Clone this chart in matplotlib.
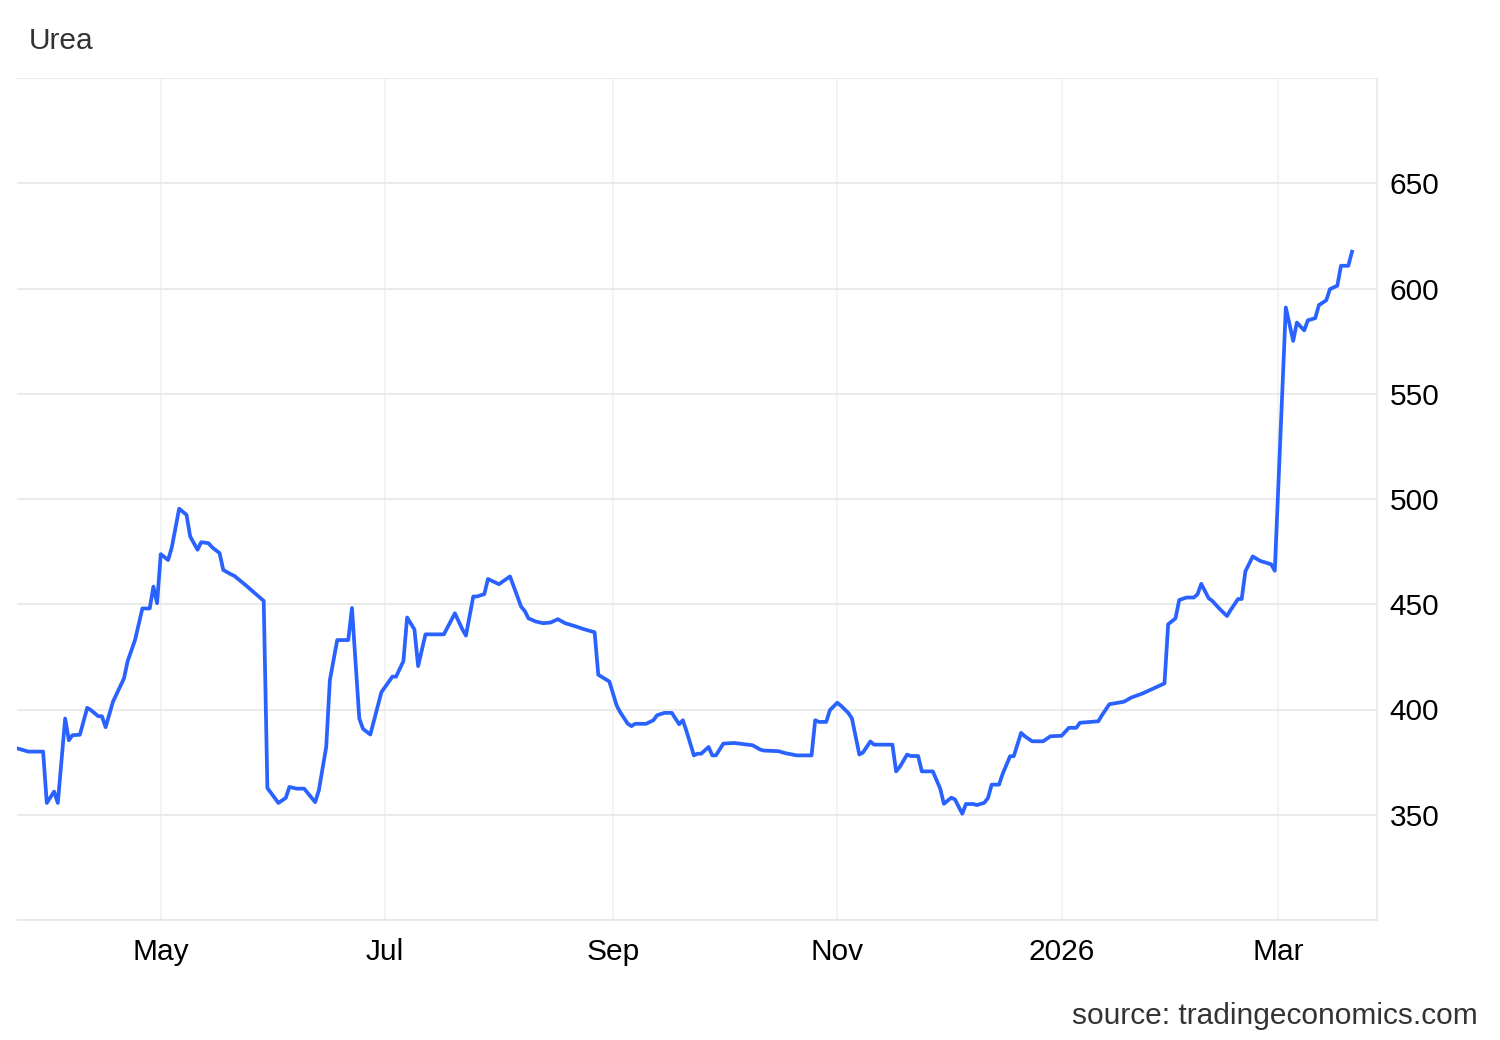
import numpy as np
import pandas as pd
import matplotlib
matplotlib.use("Agg")
import matplotlib.pyplot as plt
import matplotlib.dates as mdates

plt.rcParams['font.family'] = ['Liberation Sans', 'DejaVu Sans']

# urea price readings (date, USD/T)
dates = [
    "2025-03-22", "2025-03-26", "2025-03-30", "2025-03-31", "2025-04-02", "2025-04-03",
    "2025-04-05", "2025-04-06", "2025-04-07", "2025-04-09", "2025-04-11", "2025-04-12",
    "2025-04-14", "2025-04-15", "2025-04-16", "2025-04-18", "2025-04-21", "2025-04-22",
    "2025-04-24", "2025-04-26", "2025-04-28", "2025-04-29", "2025-04-30", "2025-05-01",
    "2025-05-03", "2025-05-04", "2025-05-06", "2025-05-08", "2025-05-09", "2025-05-11",
    "2025-05-12", "2025-05-14", "2025-05-15", "2025-05-17", "2025-05-18", "2025-05-20",
    "2025-05-21", "2025-05-24", "2025-05-29", "2025-05-30", "2025-06-01", "2025-06-02",
    "2025-06-04", "2025-06-05", "2025-06-07", "2025-06-09", "2025-06-12", "2025-06-13",
    "2025-06-15", "2025-06-16", "2025-06-18", "2025-06-21", "2025-06-22", "2025-06-24",
    "2025-06-25", "2025-06-27", "2025-06-30", "2025-07-03", "2025-07-04", "2025-07-06",
    "2025-07-07", "2025-07-09", "2025-07-10", "2025-07-12", "2025-07-17", "2025-07-20",
    "2025-07-22", "2025-07-23", "2025-07-25", "2025-07-26", "2025-07-28", "2025-07-29",
    "2025-08-01", "2025-08-02", "2025-08-04", "2025-08-05", "2025-08-07", "2025-08-08",
    "2025-08-09", "2025-08-11", "2025-08-13", "2025-08-15", "2025-08-17", "2025-08-19",
    "2025-08-22", "2025-08-24", "2025-08-27", "2025-08-28", "2025-08-30", "2025-08-31",
    "2025-09-02", "2025-09-03", "2025-09-05", "2025-09-06", "2025-09-07", "2025-09-10",
    "2025-09-12", "2025-09-13", "2025-09-15", "2025-09-17", "2025-09-19", "2025-09-20",
    "2025-09-21", "2025-09-23", "2025-09-24", "2025-09-25", "2025-09-27", "2025-09-28",
    "2025-09-29", "2025-10-01", "2025-10-04", "2025-10-09", "2025-10-11", "2025-10-12",
    "2025-10-16", "2025-10-18", "2025-10-21", "2025-10-25", "2025-10-26", "2025-10-27",
    "2025-10-29", "2025-10-30", "2025-11-01", "2025-11-02", "2025-11-04", "2025-11-05",
    "2025-11-07", "2025-11-08", "2025-11-10", "2025-11-11", "2025-11-16", "2025-11-17",
    "2025-11-18", "2025-11-20", "2025-11-21", "2025-11-23", "2025-11-24", "2025-11-27",
    "2025-11-29", "2025-11-30", "2025-12-02", "2025-12-03", "2025-12-05", "2025-12-06",
    "2025-12-08", "2025-12-09", "2025-12-11", "2025-12-12", "2025-12-13", "2025-12-15",
    "2025-12-16", "2025-12-18", "2025-12-19", "2025-12-21", "2025-12-22", "2025-12-24",
    "2025-12-27", "2025-12-29", "2026-01-01", "2026-01-03", "2026-01-05", "2026-01-06",
    "2026-01-11", "2026-01-12", "2026-01-14", "2026-01-18", "2026-01-20", "2026-01-23",
    "2026-01-26", "2026-01-29", "2026-01-30", "2026-02-01", "2026-02-02", "2026-02-04",
    "2026-02-06", "2026-02-07", "2026-02-08", "2026-02-10", "2026-02-11", "2026-02-13",
    "2026-02-15", "2026-02-16", "2026-02-18", "2026-02-19", "2026-02-20", "2026-02-22",
    "2026-02-24", "2026-02-27", "2026-02-28", "2026-03-03", "2026-03-05", "2026-03-06",
    "2026-03-08", "2026-03-09", "2026-03-11", "2026-03-12", "2026-03-14", "2026-03-15",
    "2026-03-17", "2026-03-18", "2026-03-20", "2026-03-21",
]
prices = [
    382, 380, 380, 355.6, 361, 355.6,
    395.7, 385.4, 387.8, 388, 400.8, 399.7,
    396.8, 396.8, 391.6, 403.7, 414.8, 423,
    433, 448, 448, 458.4, 450.5, 473.8,
    471, 477, 495.4, 492.5, 482.2, 475.9,
    479.5, 479, 477, 474.3, 466.3, 464.3,
    463.5, 459.2, 451.6, 362.7, 358, 355.6,
    358, 363.2, 362.4, 362.4, 356, 361.6,
    382.2, 414, 433, 433, 448.2, 395.7,
    390.8, 388.1, 408.2, 415.6, 415.6, 423,
    443.7, 438, 420.6, 435.7, 435.7, 445.7,
    438.2, 435.1, 453.7, 453.7, 454.8, 462,
    459.5, 460.8, 463.2, 458.4, 448.9, 446.8,
    443.3, 441.8, 441, 441.3, 442.9, 441,
    439.4, 438.2, 436.7, 416.5, 414.4, 413.3,
    401.9, 398.6, 393.3, 392.1, 393.2, 393.2,
    394.9, 397.3, 398.4, 398.4, 393, 394.9,
    389.7, 378.2, 379, 379, 382.2, 378.2,
    378.2, 383.8, 384.1, 383, 381, 380.5,
    380.2, 379.2, 378.2, 378.2, 394.9, 394.1,
    394.1, 399.7, 403.2, 401.8, 398.4, 395.7,
    378.6, 379.6, 384.8, 383.3, 383.3, 370.6,
    372.7, 378.6, 377.9, 377.9, 370.6, 370.6,
    362.4, 355.2, 358.1, 357.3, 350.5, 355.1,
    355.1, 354.6, 355.7, 358, 364.3, 364.3,
    369.5, 377.8, 377.8, 388.9, 387.3, 384.9,
    384.9, 387.3, 387.5, 391.3, 391.3, 393.7,
    394.4, 397.3, 402.5, 403.7, 405.7, 407.6,
    410, 412.4, 440.5, 443.3, 452, 453.2,
    453.2, 454.8, 459.7, 452.9, 451.6, 447.8,
    444.4, 447.3, 452.5, 452.5, 465.6, 472.7,
    470.6, 469, 465.9, 591, 575.1, 583.8,
    580.1, 584.9, 585.9, 592.1, 594.4, 599.7,
    601.3, 610.8, 610.8, 617.5,
]

tick_dates = ["2025-05-01", "2025-07-01", "2025-09-01", "2025-11-01", "2026-01-01", "2026-03-01"]
tick_labels = ["May", "Jul", "Sep", "Nov", "2026", "Mar"]
y_ticks = [300, 350, 400, 450, 500, 550, 600, 650, 700]

df = pd.DataFrame({"date": pd.to_datetime(dates), "price": prices})

fig = plt.figure(figsize=(15, 10.4), dpi=100)
ax = fig.add_axes([17 / 1500, 1 - 920 / 1040, 1360 / 1500, 842 / 1040])

ax.plot(df["date"], df["price"], color="#2962ff", linewidth=2.7, solid_joinstyle="round")

ax.set_ylim(300, 700)
ax.set_xlim(pd.Timestamp("2025-03-22 21:36"), pd.Timestamp("2026-03-27 19:12"))

ax.set_yticks(y_ticks)
ax.set_yticklabels(["" if v in (300, 700) else str(v) for v in y_ticks])
ax.yaxis.tick_right()
ax.set_xticks(pd.to_datetime(tick_dates))
ax.set_xticklabels(tick_labels)

ax.tick_params(axis="both", length=0, labelsize=21.5, colors="#000000")
ax.tick_params(axis="x", pad=13)
ax.tick_params(axis="y", pad=9)

ax.grid(axis="y", color="#e6e6e6", linewidth=1.1)
ax.grid(axis="x", color="#eef0f3", linewidth=1.1)
ax.set_axisbelow(True)

for side in ["top", "left"]:
    ax.spines[side].set_visible(False)
ax.spines["bottom"].set_color("#e6e6e6")
ax.spines["right"].set_color("#e6e6e6")
ax.spines["bottom"].set_linewidth(1.1)
ax.spines["right"].set_linewidth(1.1)

fig.text(29 / 1500, 1 - 41 / 1040, "Urea", fontsize=21.5, color="#333333", ha="left", va="center")
fig.text(1478 / 1500, 1 - 1016 / 1040, "source: tradingeconomics.com", fontsize=21.5,
         color="#333333", ha="right", va="center")

fig.savefig("out.png", dpi=100)
